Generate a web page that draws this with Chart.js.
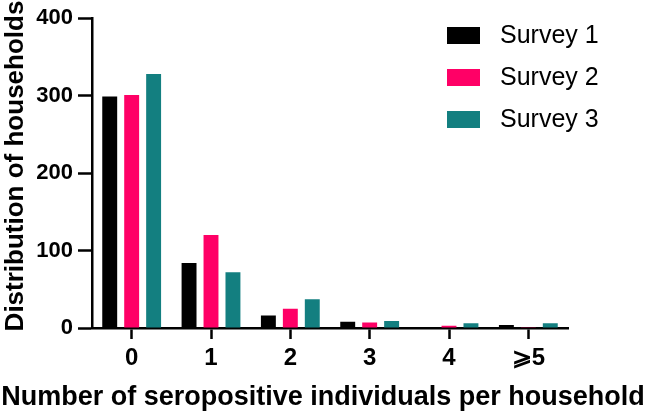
<!DOCTYPE html>
<html>
<head>
<meta charset="utf-8">
<script src="https://cdn.jsdelivr.net/npm/chart.js@4/dist/chart.umd.min.js"></script>
<style>
  html, body { margin: 0; padding: 0; background: #fff; }
  #wrap { width: 646px; height: 413px; }
</style>
</head>
<body>
<div id="wrap"><canvas id="graphique" width="646" height="413"></canvas></div>
<script>
// categories and values
var categories = ['0', '1', '2', '3', '4', '\u2A7E5'];
var survey1 = [299, 84, 16, 8, 0, 4];
var survey2 = [301, 120, 25, 7, 3, 1];
var survey3 = [328, 72, 37, 9, 6, 6];
var seriesNames = ['Survey 1', 'Survey 2', 'Survey 3'];
var yTicks = [0, 100, 200, 300, 400];
var xTitle = 'Number of seropositive individuals per household';
var yTitle = 'Distribution of households';

var colors = ['#000000', '#ff0066', '#137f80'];
var axisFont = '"Liberation Sans", Arial, sans-serif';

// legend inside the plot (top right) + axis titles drawn at full width
var extras = {
  id: 'extras',
  afterDraw: function(chart) {
    var ctx = chart.ctx;
    ctx.save();
    ctx.font = '25px "Liberation Sans", Arial';
    ctx.textBaseline = 'middle';
    chart.data.datasets.forEach(function(ds, i) {
      var y = 35 + i * 42;
      ctx.fillStyle = ds.backgroundColor;
      ctx.fillRect(447, y - 8, 33, 17);
      ctx.fillStyle = '#000';
      ctx.fillText(ds.label, 500, y + 1);
    });

    ctx.fillStyle = '#000';
    ctx.textAlign = 'center';
    ctx.font = 'bold 27px "Liberation Sans", Arial';
    ctx.fillText(xTitle, 323, 398);

    ctx.font = 'bold 26px "Liberation Sans", Arial';
    ctx.translate(16, 166);
    ctx.rotate(-Math.PI / 2);
    ctx.fillText(yTitle, 0, 0);
    ctx.restore();
  }
};

var ctx = document.getElementById('graphique');
var myChart = new Chart(ctx, {
  type: 'bar',
  data: {
    labels: categories,
    datasets: [
      { label: seriesNames[0], data: survey1, backgroundColor: colors[0] },
      { label: seriesNames[1], data: survey2, backgroundColor: colors[1] },
      { label: seriesNames[2], data: survey3, backgroundColor: colors[2] }
    ]
  },
  options: {
    responsive: false,
    animation: false,
    layout: { padding: { top: 11, right: 78, left: 0, bottom: 0 } },
    datasets: { bar: { categoryPercentage: 0.83, barPercentage: 0.68 } },
    plugins: {
      legend: { display: false },
      tooltip: { enabled: false }
    },
    scales: {
      x: {
        offset: true,
        border: { display: true, color: '#000', width: 2.5 },
        grid: { display: true, drawOnChartArea: false, drawTicks: true, tickLength: 11, tickWidth: 2.5, tickColor: '#000', offset: false },
        ticks: { color: '#000', font: { family: axisFont, weight: 'bold', size: 24 }, padding: 5, maxRotation: 0 },
        afterFit: function(scale) { scale.height = 85; }
      },
      y: {
        min: 0,
        max: 400,
        afterBuildTicks: function(scale) { scale.ticks = yTicks.map(function(v) { return { value: v }; }); },
        border: { display: true, color: '#000', width: 2.5 },
        grid: { display: true, drawOnChartArea: false, drawTicks: true, tickLength: 14, tickWidth: 2.5, tickColor: '#000' },
        ticks: { color: '#000', font: { family: axisFont, weight: 'bold', size: 22 }, padding: 5 },
        afterFit: function(scale) { scale.width = 92; }
      }
    }
  },
  plugins: [extras]
});
</script>
</body>
</html>
